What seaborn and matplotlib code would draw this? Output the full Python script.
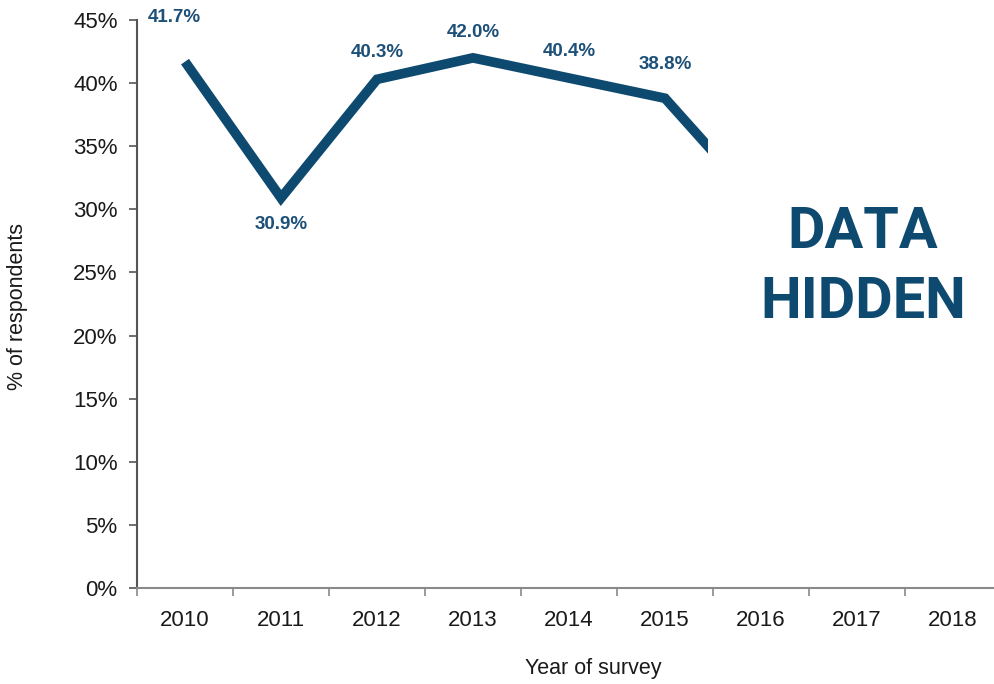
import matplotlib
matplotlib.use("Agg")
import matplotlib.pyplot as plt
from matplotlib.patches import Rectangle
from matplotlib.ticker import FixedLocator
import seaborn as sns
import pandas as pd
import numpy as np

# Survey results
years = [2010, 2011, 2012, 2013, 2014, 2015, 2016, 2017, 2018]
share = [41.7, 30.9, 40.3, 42.0, 40.4, 38.8, 30.3, np.nan, np.nan]
shown_labels = ["41.7%", "30.9%", "40.3%", "42.0%", "40.4%", "38.8%"]
y_ticks = [0, 5, 10, 15, 20, 25, 30, 35, 40, 45]

# label offsets in points (dx, dy)
label_offsets = [(-8, 32), (0, -19), (0, 19.5), (0, 18), (0, 19), (0, 24)]

NAVY = "#0e4a70"
LABEL = "#1d5078"
TEXT = "#1a1a1a"

sns.set_style("white")
plt.rcParams["font.family"] = ["Liberation Sans", "DejaVu Sans"]

fig = plt.figure(figsize=(9.95, 6.84), dpi=100)
ax = fig.add_axes([137 / 995, 96 / 684, 864 / 995, 568 / 684])

df = pd.DataFrame({"year": years, "share": share})
sns.lineplot(data=df, x="year", y="share", ax=ax, color=NAVY, linewidth=7,
             solid_joinstyle="miter", solid_capstyle="butt")

# the visible series stops part-way into 2016
clip = Rectangle((2009, -10), 6.45, 120, transform=ax.transData)
for ln in ax.get_lines():
    ln.set_clip_path(clip)

for yr, val, txt, (dx, dy) in zip(years, share, shown_labels, label_offsets):
    ax.annotate(txt, (yr, val), xytext=(dx, dy), textcoords="offset points",
                ha="center", va="center", fontsize=13.5, fontweight="bold",
                color=LABEL, annotation_clip=False)

ax.set_xlim(2009.5, 2018.5)
ax.set_ylim(0, 45)
ax.set_xticks(years)
ax.set_xticklabels([str(y) for y in years])
ax.xaxis.set_minor_locator(FixedLocator(np.arange(2009.5, 2019, 1)))
ax.tick_params(axis="x", which="major", length=0, pad=16, labelsize=16, colors=TEXT)
ax.tick_params(axis="x", which="minor", length=6, width=1.2, color="#8a8a8a",
               direction="out", bottom=True)
ax.set_yticks(y_ticks)
ax.set_yticklabels([f"{v}%" for v in y_ticks])
ax.tick_params(axis="y", length=6, width=1.2, color="#555555", direction="out",
               labelsize=16, labelcolor=TEXT, pad=8, left=True)

for side in ["top", "right"]:
    ax.spines[side].set_visible(False)
ax.spines["left"].set_color("#555555")
ax.spines["left"].set_linewidth(1.5)
ax.spines["bottom"].set_color("#8a8a8a")
ax.spines["bottom"].set_linewidth(1.5)

ax.set_xlabel("Year of survey", fontsize=15.5, color=TEXT)
ax.set_ylabel("% of respondents", fontsize=15.5, color=TEXT)
ax.xaxis.set_label_coords(0.528, -0.141)
ax.xaxis.label.set_verticalalignment("center")
ax.yaxis.set_label_coords(-0.138, 0.495)
ax.yaxis.label.set_verticalalignment("center")

for txt, ypx in [("DATA", 233), ("HIDDEN", 303)]:
    fig.text(863 / 995, 1 - ypx / 684, txt, ha="center", va="center",
             fontsize=41.5, fontweight="bold", color=NAVY,
             family=["Roboto", "DejaVu Sans"])

fig.savefig("out.png", dpi=100, facecolor="white")
